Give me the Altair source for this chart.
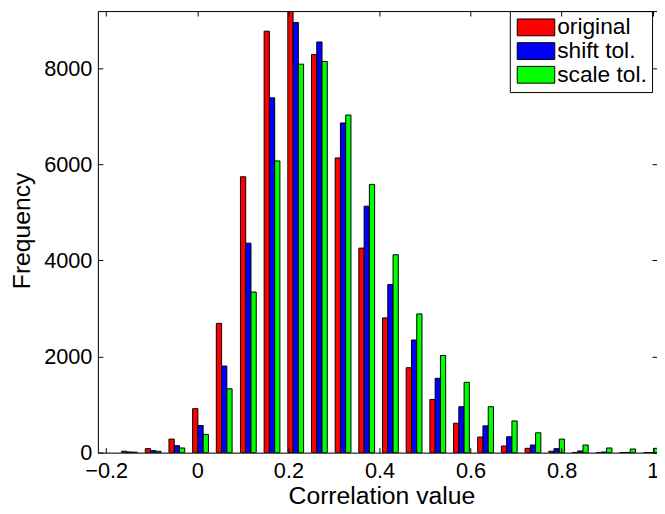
import altair as alt
import pandas as pd

# ---- data ----
centers = [-0.149, -0.097, -0.045, 0.007, 0.059, 0.112, 0.164, 0.216, 0.268, 0.320,
           0.372, 0.424, 0.476, 0.528, 0.580, 0.633, 0.685, 0.737, 0.789, 0.841,
           0.893, 0.945, 0.997]
original = [30, 83, 282, 915, 2689, 5740, 8770, 9300, 8283, 6132, 4256, 2804, 1767,
            1107, 612, 324, 138, 90, 29, 5, 2, 1, 0]
shift_tol = [15, 41, 145, 565, 1802, 4359, 7382, 8950, 8545, 6860, 5128, 3499, 2344,
             1547, 956, 557, 330, 159, 83, 35, 14, 5, 2]
scale_tol = [10, 29, 97, 379, 1328, 3341, 6070, 8083, 8139, 7025, 5582, 4118, 2887,
             2021, 1464, 956, 660, 413, 282, 159, 97, 76, 90]
series_names = ["original", "shift tol.", "scale tol."]
series_colors = ["#ff0000", "#0000ff", "#00ff00"]
x_ticks = [-0.2, 0, 0.2, 0.4, 0.6, 0.8, 1.0]
y_ticks = [0, 2000, 4000, 6000, 8000]

# ---- build table ----
bar_w = (centers[1] - centers[0]) * (2.0 / 3.0) / 3.0
rows = []
for i, (name, vals) in enumerate(zip(series_names, [original, shift_tol, scale_tol])):
    for c, v in zip(centers, vals):
        lo = c + (i - 1.5) * bar_w
        rows.append({"series": name, "center": c, "value": v, "lo": lo, "hi": lo + bar_w})
df = pd.DataFrame(rows)

FONT = "Liberation Sans"
xscale = alt.Scale(domain=[-0.2184, 1.0094], nice=False, zero=False)
yscale = alt.Scale(domain=[0, 9188], nice=False, zero=False)

base = alt.Chart(df)

bars = base.mark_rect(stroke="black", strokeWidth=1, clip=True).encode(
    x=alt.X("lo:Q", scale=xscale, axis=alt.Axis(
        orient="bottom", values=x_ticks, format="~g", labelFontSize=22, labelPadding=8,
        tickSize=0, domain=True, domainColor="black", labelColor="black",
        title="Correlation value", titleFontSize=25, titleFontWeight="normal",
        titleColor="black", titleBaseline="alphabetic", titleY=52, titleX=287,
        grid=False, zindex=1, labelFlush=False)),
    x2="hi:Q",
    y=alt.Y("value:Q", scale=yscale, axis=alt.Axis(
        orient="left", values=y_ticks, format="d", labelFontSize=22, labelPadding=6,
        tickSize=0, domain=True, domainColor="black", labelColor="black",
        title="Frequency", titleFontSize=25, titleFontWeight="normal",
        titleColor="black", titleBaseline="alphabetic", titleAngle=270,
        titleX=-69, titleY=222, grid=False, zindex=1, labelFlush=False)),
    y2=alt.datum(0),
    color=alt.Color("series:N", scale=alt.Scale(domain=series_names, range=series_colors),
                    legend=alt.Legend(
                        orient="none", legendX=417, legendY=0, title=None,
                        direction="vertical",
                        symbolType="M-2.235,-1L2.235,-1L2.235,1L-2.235,1Z",
                        symbolSize=289, symbolOffset=10, labelOffset=10,
                        symbolStrokeColor="black", symbolStrokeWidth=1,
                        symbolOpacity=1,
                        labelFontSize=23, labelFont=FONT, labelColor="black",
                        fillColor="white", strokeColor="black", padding=5,
                        rowPadding=-2)),
)

ghost = base.mark_point(opacity=0)

ticks_in = ghost.encode(
    x=alt.X("center:Q", scale=xscale, axis=alt.Axis(
        orient="bottom", values=x_ticks, offset=-5, tickSize=5, labels=False,
        domain=False, title=None, grid=False, tickColor="black", zindex=1)),
    y=alt.Y("value:Q", scale=yscale, axis=alt.Axis(
        orient="left", values=y_ticks, offset=-5, tickSize=5, labels=False,
        domain=False, title=None, grid=False, tickColor="black", zindex=1)),
)

top_right = ghost.encode(
    x=alt.X("center:Q", scale=xscale, axis=alt.Axis(
        orient="top", values=x_ticks, tickSize=0, labels=False, domain=True,
        domainColor="black", title=None, grid=False, zindex=1)),
    y=alt.Y("value:Q", scale=yscale, axis=alt.Axis(
        orient="right", values=y_ticks, offset=-5, tickSize=5, labels=False,
        domain=False, title=None, grid=False, tickColor="black", zindex=1)),
)

top_ticks = ghost.encode(
    x=alt.X("center:Q", scale=xscale, axis=alt.Axis(
        orient="top", values=x_ticks, offset=-5, tickSize=5, labels=False,
        domain=False, title=None, grid=False, tickColor="black", zindex=1)),
    y=alt.Y("value:Q", scale=yscale, axis=None),
)

chart = alt.layer(bars, ticks_in, top_right, top_ticks).resolve_axis(
    x="independent", y="independent"
).properties(
    width=566, height=447,
    autosize=alt.AutoSizeParams(type="none"),
    padding={"left": 91, "top": 0, "right": 0, "bottom": 59},
).configure_view(stroke=None).configure(
    font=FONT
).configure_axis(labelFont=FONT, titleFont=FONT)

chart.save("out.html", embed_options={"renderer": "svg", "actions": False})
